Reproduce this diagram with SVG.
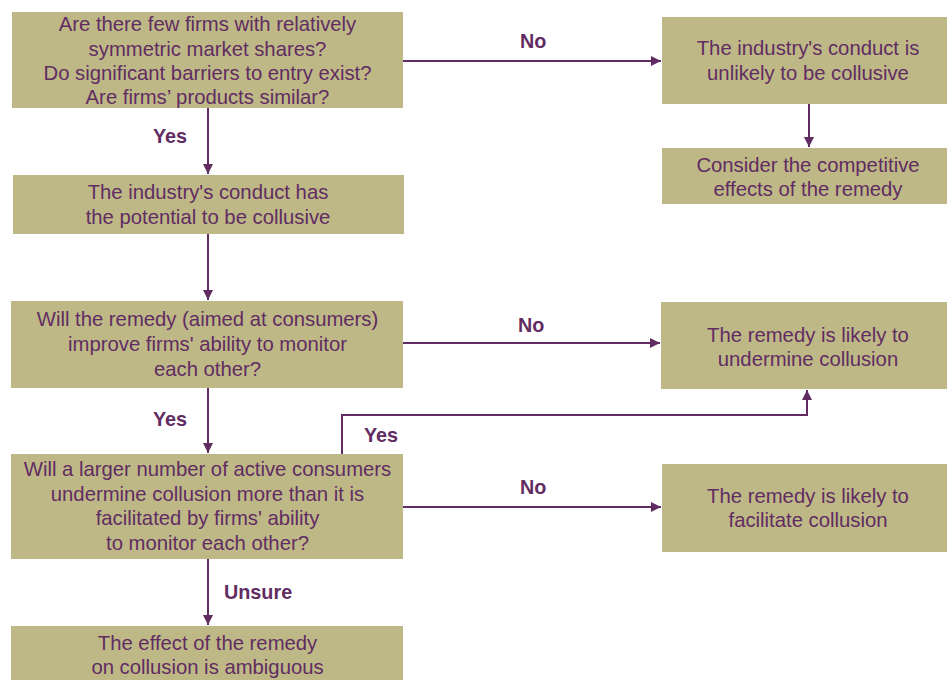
<svg xmlns="http://www.w3.org/2000/svg" width="947" height="680" viewBox="0 0 947 680">
<style>
.box{fill:#BEB887;}
.t{font-family:"Liberation Sans",Arial,sans-serif;font-size:20.3px;fill:#612C62;text-anchor:middle;}
.lbl{font-family:"Liberation Sans",Arial,sans-serif;font-size:19.8px;font-weight:bold;fill:#612C62;}
.c{fill:none;stroke:#612C62;stroke-width:2;}
</style>
<defs>
<marker id="ah" viewBox="0 0 10 10" refX="10" refY="5" markerWidth="5" markerHeight="5" orient="auto" markerUnits="strokeWidth">
<path d="M0,0 L10,5 L0,10 z" fill="#612C62"/>
</marker>
</defs>
<rect width="947" height="680" fill="#fff"/>
<g id="n1"><rect class="box" x="12" y="12" width="391" height="96"/>
<text class="t" x="207.5"><tspan x="207.5" y="31">Are there few firms with relatively</tspan><tspan x="207.5" y="55.5">symmetric market shares?</tspan><tspan x="207.5" y="80">Do significant barriers to entry exist?</tspan><tspan x="207.5" y="104">Are firms’ products similar?</tspan></text></g>
<g id="n2"><rect class="box" x="13" y="175" width="391" height="59"/>
<text class="t"><tspan x="208" y="199">The industry's conduct has</tspan><tspan x="208" y="224">the potential to be collusive</tspan></text></g>
<g id="n3"><rect class="box" x="11" y="301" width="392" height="87"/>
<text class="t"><tspan x="207.5" y="326">Will the remedy (aimed at consumers)</tspan><tspan x="207.5" y="351">improve firms' ability to monitor</tspan><tspan x="207.5" y="376">each other?</tspan></text></g>
<g id="n4"><rect class="box" x="11" y="454" width="392" height="105"/>
<text class="t"><tspan x="207.5" y="476">Will a larger number of active consumers</tspan><tspan x="207.5" y="501">undermine collusion more than it is</tspan><tspan x="207.5" y="525">facilitated by firms' ability</tspan><tspan x="207.5" y="550">to monitor each other?</tspan></text></g>
<g id="n5"><rect class="box" x="11" y="626" width="392" height="54"/>
<text class="t"><tspan x="207.5" y="650">The effect of the remedy</tspan><tspan x="207.5" y="674">on collusion is ambiguous</tspan></text></g>
<g id="n6"><rect class="box" x="662" y="17" width="285" height="87"/>
<text class="t"><tspan x="808" y="55">The industry's conduct is</tspan><tspan x="808" y="80">unlikely to be collusive</tspan></text></g>
<g id="n7"><rect class="box" x="662" y="148" width="285" height="56"/>
<text class="t"><tspan x="808" y="172">Consider the competitive</tspan><tspan x="808" y="196">effects of the remedy</tspan></text></g>
<g id="n8"><rect class="box" x="661" y="302" width="286" height="87"/>
<text class="t"><tspan x="808" y="342">The remedy is likely to</tspan><tspan x="808" y="366">undermine collusion</tspan></text></g>
<g id="n9"><rect class="box" x="662" y="464" width="285" height="88"/>
<text class="t"><tspan x="808" y="503">The remedy is likely to</tspan><tspan x="808" y="527">facilitate collusion</tspan></text></g>
<g id="connectors">
<path class="c" d="M403,61 H661" marker-end="url(#ah)"/>
<path class="c" d="M809,104 V147" marker-end="url(#ah)"/>
<path class="c" d="M208,108 V174" marker-end="url(#ah)"/>
<path class="c" d="M208,234 V300" marker-end="url(#ah)"/>
<path class="c" d="M403,343 H660" marker-end="url(#ah)"/>
<path class="c" d="M208,388 V453" marker-end="url(#ah)"/>
<path class="c" d="M342,454 V415 H807 V390" marker-end="url(#ah)"/>
<path class="c" d="M403,507 H661" marker-end="url(#ah)"/>
<path class="c" d="M208,559 V625" marker-end="url(#ah)"/>
<text class="lbl" x="153" y="143">Yes</text>
<text class="lbl" x="520" y="48">No</text>
<text class="lbl" x="518" y="332">No</text>
<text class="lbl" x="153" y="426">Yes</text>
<text class="lbl" x="364" y="442">Yes</text>
<text class="lbl" x="520" y="494">No</text>
<text class="lbl" x="224" y="599">Unsure</text>
</g>
</svg>
